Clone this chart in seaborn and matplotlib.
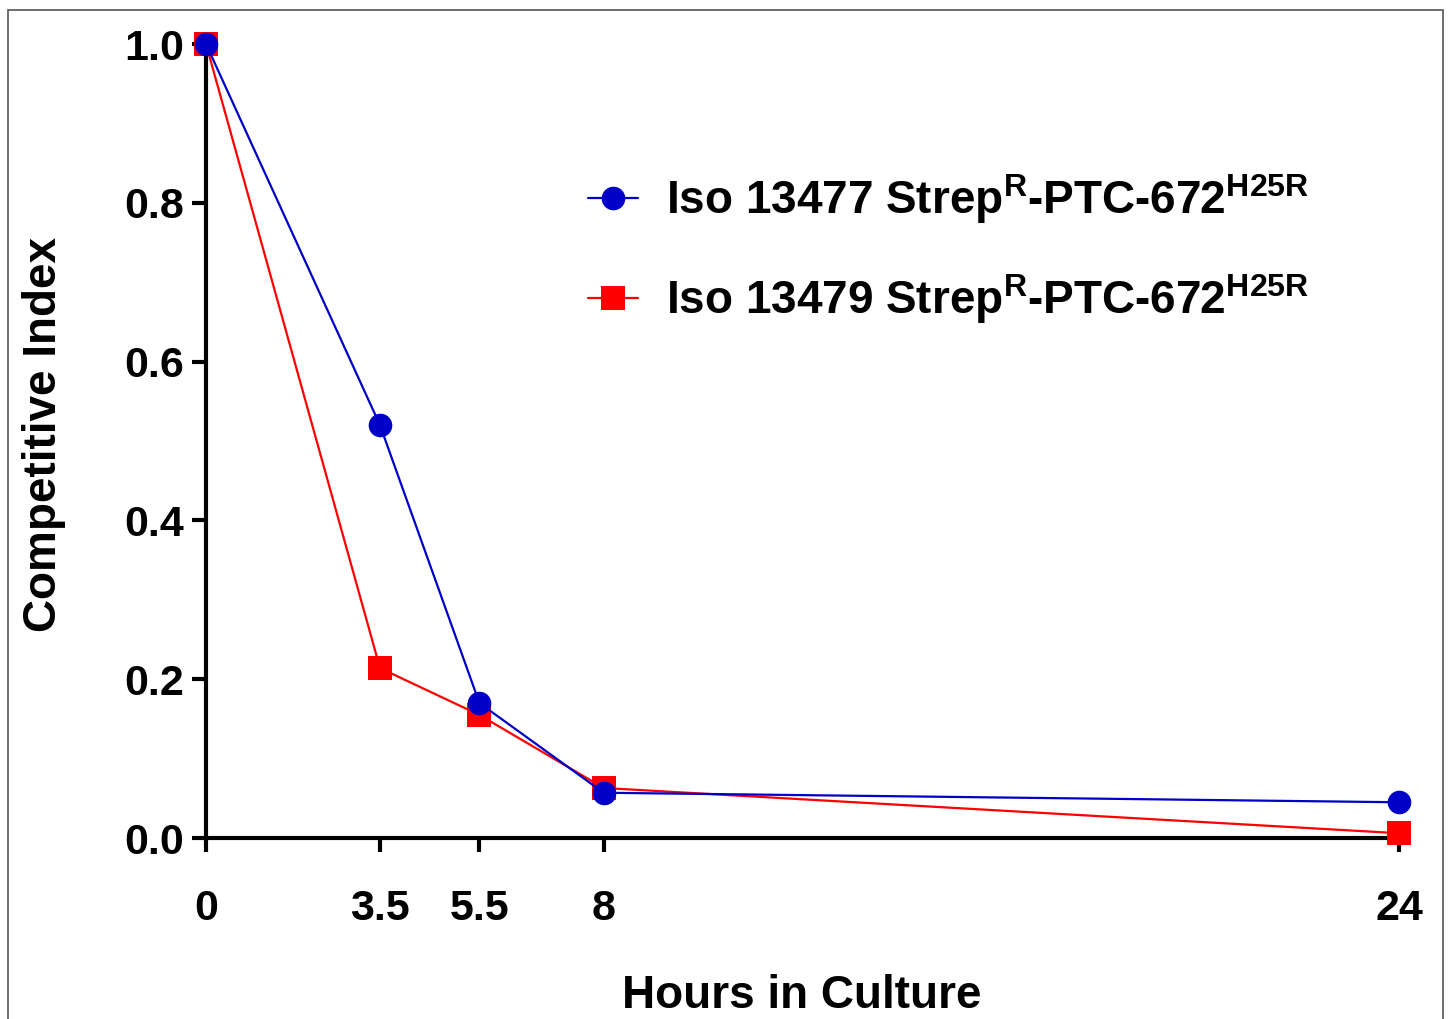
import pandas as pd
import matplotlib.pyplot as plt
import seaborn as sns
from matplotlib.patches import Rectangle

# Veriler
hours = [0, 3.5, 5.5, 8, 24]
iso_13477 = [1.0, 0.52, 0.17, 0.057, 0.045]
iso_13479 = [1.0, 0.214, 0.155, 0.063, 0.006]
strain_names = [
    r"Iso 13477 Strep$^{\mathbf{R}}$-PTC-672$^{\mathbf{H25R}}$",
    r"Iso 13479 Strep$^{\mathbf{R}}$-PTC-672$^{\mathbf{H25R}}$",
]
x_ticks = [0, 3.5, 5.5, 8, 24]
x_tick_labels = ["0", "3.5", "5.5", "8", "24"]
y_ticks = [0.0, 0.2, 0.4, 0.6, 0.8, 1.0]
y_tick_labels = ["0.0", "0.2", "0.4", "0.6", "0.8", "1.0"]

df = pd.DataFrame({
    "hours": hours + hours,
    "ci": iso_13477 + iso_13479,
    "strain": [strain_names[0]] * len(hours) + [strain_names[1]] * len(hours),
})

sns.set_theme(style="ticks")
plt.rcParams["font.family"] = ["Liberation Sans", "DejaVu Sans"]
plt.rcParams["font.weight"] = "bold"
plt.rcParams["text.color"] = "black"
plt.rcParams["axes.labelcolor"] = "black"
plt.rcParams["xtick.color"] = "black"
plt.rcParams["ytick.color"] = "black"
plt.rcParams["mathtext.fontset"] = "custom"
plt.rcParams["mathtext.rm"] = "Liberation Sans:bold"
plt.rcParams["mathtext.bf"] = "Liberation Sans:bold"
plt.rcParams["mathtext.it"] = "Liberation Sans:bold"

fig = plt.figure(figsize=(14.48, 10.19), dpi=100)
ax = fig.add_axes([206 / 1448, 1 - 838 / 1019, (1399 - 206) / 1448, 794 / 1019])

colors = {strain_names[0]: "#0000C8", strain_names[1]: "#FF0000"}
markers = {strain_names[0]: "o", strain_names[1]: "s"}

# kirmizi once, mavi ustte
sns.lineplot(
    data=df, x="hours", y="ci", hue="strain", style="strain",
    hue_order=[strain_names[1], strain_names[0]],
    style_order=[strain_names[1], strain_names[0]],
    palette=colors, markers=markers, dashes=False,
    markersize=17, markeredgewidth=0, linewidth=1.6,
    clip_on=False, zorder=3, ax=ax,
)

ax.set_xlim(0, 24)
ax.set_ylim(0, 1)
ax.set_xticks(x_ticks)
ax.set_xticklabels(x_tick_labels)
ax.set_yticks(y_ticks)
ax.set_yticklabels(y_tick_labels)
ax.tick_params(axis="both", width=3, length=10, labelsize=31, color="black",
               labelcolor="black")
ax.tick_params(axis="x", pad=27)
ax.tick_params(axis="y", pad=6)
for lbl in ax.get_xticklabels() + ax.get_yticklabels():
    lbl.set_fontweight("bold")

for side in ["top", "right"]:
    ax.spines[side].set_visible(False)
for side in ["left", "bottom"]:
    ax.spines[side].set_linewidth(3)
    ax.spines[side].set_color("black")

ax.set_xlabel("Hours in Culture", fontsize=33, fontweight="bold", color="black")
ax.set_ylabel("Competitive Index", fontsize=33, fontweight="bold", color="black")
ax.xaxis.set_label_coords(0.4996, -0.199)
ax.xaxis.label.set_va("center")
ax.yaxis.set_label_coords(-0.1358, 0.508)
ax.yaxis.label.set_va("center")

handles, labels = ax.get_legend_handles_labels()
order = [labels.index(n) for n in strain_names]
leg = ax.legend(
    [handles[i] for i in order], [labels[i] for i in order],
    loc="center left", bbox_to_anchor=(588 / 1448, 1 - 249 / 1019),
    bbox_transform=fig.transFigure, frameon=False,
    prop={"size": 33, "weight": "bold"},
    handlelength=1.09, handletextpad=0.62, borderpad=0, borderaxespad=0,
    labelspacing=1.0,
)
for t in leg.get_texts():
    t.set_color("black")

# cerceve
fig.patches.append(Rectangle((8 / 1448, -0.05), (1443 - 8) / 1448, 1.05 - 10 / 1019,
                             transform=fig.transFigure, fill=False,
                             edgecolor="#555555", linewidth=1.2))

fig.savefig("out.png", dpi=100)
plt.close(fig)
